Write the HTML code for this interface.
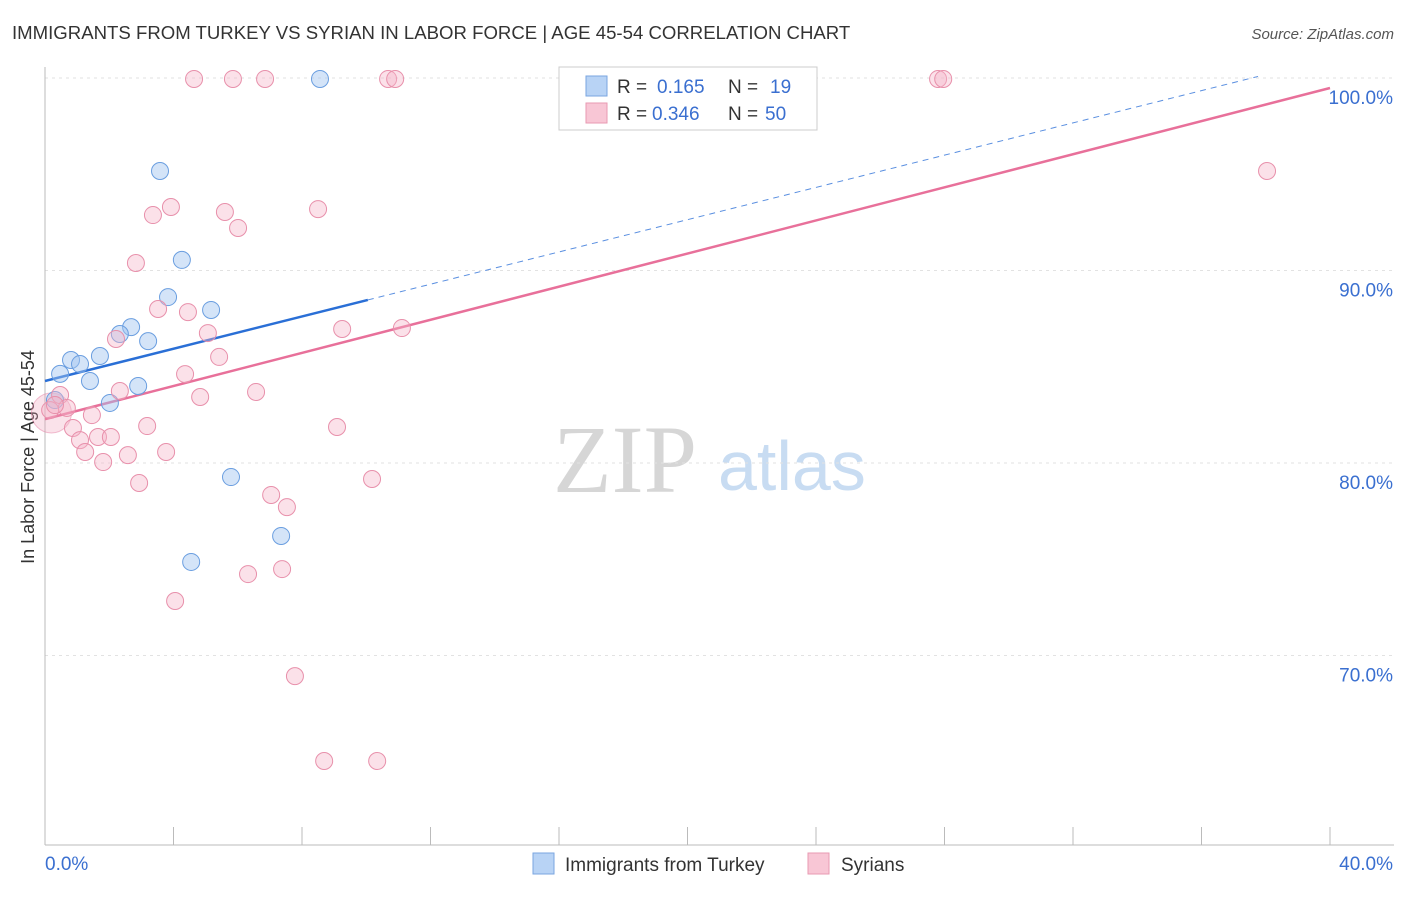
<!DOCTYPE html>
<html><head><meta charset="utf-8"><style>
body{margin:0;background:#fff;font-family:"Liberation Sans",sans-serif;}
</style></head><body>
<svg id="chart" width="1406" height="892" xmlns="http://www.w3.org/2000/svg" font-family="Liberation Sans, sans-serif">
<text x="12" y="39" font-size="18.6" fill="#333">IMMIGRANTS FROM TURKEY VS SYRIAN IN LABOR FORCE | AGE 45-54 CORRELATION CHART</text>
<text x="1394" y="39" font-size="15" fill="#555" text-anchor="end" font-style="italic">Source: ZipAtlas.com</text>
<text x="553" y="492" font-size="96" fill="#d6d6d6" font-family="Liberation Serif, serif">ZIP</text>
<text x="718" y="490" font-size="70" fill="#c8dcf2">atlas</text>
<text transform="translate(34,457) rotate(-90)" font-size="18" fill="#333" text-anchor="middle">In Labor Force | Age 45-54</text>
<g id="grid"></g><g id="axes"></g><g id="lines"></g><g id="pts"></g>
<g>
<rect x="559" y="67" width="258" height="63" fill="#fff" stroke="#ccc"/>
<rect x="586" y="76" width="21" height="20" fill="#b8d3f5" stroke="#7aa6e0"/>
<text x="617" y="93" font-size="19" fill="#333">R =</text>
<text x="657" y="93" font-size="19" fill="#3a6fd0">0.165</text>
<text x="728" y="93" font-size="19" fill="#333">N =</text>
<text x="770" y="93" font-size="19" fill="#3a6fd0">19</text>
<rect x="586" y="103" width="21" height="20" fill="#f8c6d5" stroke="#e89ab2"/>
<text x="617" y="120" font-size="19" fill="#333">R =</text>
<text x="652" y="120" font-size="19" fill="#3a6fd0">0.346</text>
<text x="728" y="120" font-size="19" fill="#333">N =</text>
<text x="765" y="120" font-size="19" fill="#3a6fd0">50</text>
</g>
<g>
<rect x="533" y="853" width="21" height="21" fill="#b8d3f5" stroke="#7aa6e0"/>
<text x="565" y="871" font-size="19" fill="#333">Immigrants from Turkey</text>
<rect x="808" y="853" width="21" height="21" fill="#f8c6d5" stroke="#e89ab2"/>
<text x="841" y="871" font-size="19" fill="#333">Syrians</text>
</g>
</svg>
<script>
const turkeyX=[8.56,3.58,4.26,3.83,5.17,2.68,2.33,3.21,1.71,0.81,1.09,0.47,1.40,2.90,2.02,0.31,5.79,7.35,4.55];
const turkeyY=[99.95,95.17,90.55,88.62,87.95,87.06,86.70,86.33,85.56,85.35,85.14,84.63,84.26,84.00,83.12,83.27,79.27,76.21,74.86];
const syrX=[4.64,5.85,6.85,10.68,10.90,27.80,27.96,38.04,3.92,3.36,5.60,8.50,6.01,2.83,3.52,4.45,5.07,9.25,11.11,2.21,5.42,4.36,6.57,2.33,4.83,0.47,0.68,1.46,3.18,9.09,0.87,1.65,2.05,1.09,1.25,2.58,3.77,1.81,10.18,2.93,7.04,7.53,6.32,7.38,4.05,7.78,8.69,10.34,0.16,0.31];
const syrY=[99.95,99.95,99.95,99.95,99.95,99.95,99.95,95.17,93.30,92.88,93.04,93.19,92.21,90.39,88.00,87.84,86.75,86.96,87.01,86.44,85.51,84.62,83.69,83.74,83.43,83.53,82.86,82.49,81.92,81.87,81.82,81.35,81.35,81.19,80.57,80.41,80.57,80.05,79.17,78.96,78.34,77.71,74.23,74.49,72.83,68.93,64.52,64.52,82.75,83.01];
const yTicks=[100,90,80,70];
const yTickLabels=["100.0%","90.0%","80.0%","70.0%"];
const xTickCount=[0,4,8,12,16,20,24,28,32,36,40];
const turkeyTrend=[84.26,0.419,10.05,37.76];
const syrTrend=[82.28,99.48];
const NS="http://www.w3.org/2000/svg";
const X=v=>45+v/40*1285, Y=v=>78+(100-v)*19.25;
function mk(tag,attrs,parent){const e=document.createElementNS(NS,tag);for(const k in attrs)e.setAttribute(k,attrs[k]);parent.appendChild(e);return e;}
const grid=document.getElementById('grid'),axes=document.getElementById('axes'),lines=document.getElementById('lines'),pts=document.getElementById('pts');
yTicks.forEach((t,i)=>{
 const l=mk('line',{x1:45,x2:1394,y1:Y(t),y2:Y(t),stroke:'#e2e2e2','stroke-dasharray':'3,4'},grid);
 
 
 const tx=mk('text',{x:1393,y:Y(t)+26,'font-size':19,fill:'#3a6fd0','text-anchor':'end'},grid);
 tx.textContent=yTickLabels[i];
 
 
});
const ya=mk('line',{x1:45,x2:45,y1:67,y2:845,stroke:'#bbb'},axes);


const xa=mk('line',{x1:45,x2:1394,y1:845,y2:845,stroke:'#bbb'},axes);


xTickCount.forEach(t=>{const l=mk('line',{x1:X(t),x2:X(t),y1:827,y2:845,stroke:'#bbb'},axes);
 
 });
const x0=mk('text',{x:45,y:870,'font-size':19,fill:'#3a6fd0'},axes);x0.textContent='0.0%';


const x1=mk('text',{x:1393,y:870,'font-size':19,fill:'#3a6fd0','text-anchor':'end'},axes);x1.textContent='40.0%';


const [b0,bs,bEnd,bDash]=turkeyTrend;
const tl=mk('line',{x1:X(0),y1:Y(b0),x2:X(bEnd),y2:Y(b0+bs*bEnd),stroke:'#2a6fd6','stroke-width':2.5},lines);


const td=mk('line',{x1:X(bEnd),y1:Y(b0+bs*bEnd),x2:X(bDash),y2:Y(b0+bs*bDash),stroke:'#5a8fe0','stroke-width':1,'stroke-dasharray':'6,5'},lines);


const sl=mk('line',{x1:X(0),y1:Y(syrTrend[0]),x2:X(40),y2:Y(syrTrend[1]),stroke:'#e8709a','stroke-width':2.5},lines);


const bc=mk('circle',{cx:X(0.2),cy:Y(82.6),r:20,fill:'rgba(240,160,185,0.3)',stroke:'rgba(230,130,165,0.5)'},pts);


turkeyX.forEach((v,i)=>{const c=mk('circle',{cx:X(v),cy:Y(turkeyY[i]),r:8.5,fill:'rgba(160,195,240,0.45)',stroke:'#6a9ee0','stroke-width':1},pts);
 
 });
syrX.forEach((v,i)=>{const c=mk('circle',{cx:X(v),cy:Y(syrY[i]),r:8.5,fill:'rgba(245,180,200,0.4)',stroke:'#e890ab','stroke-width':1},pts);
 
 });
</script>
</body></html>
